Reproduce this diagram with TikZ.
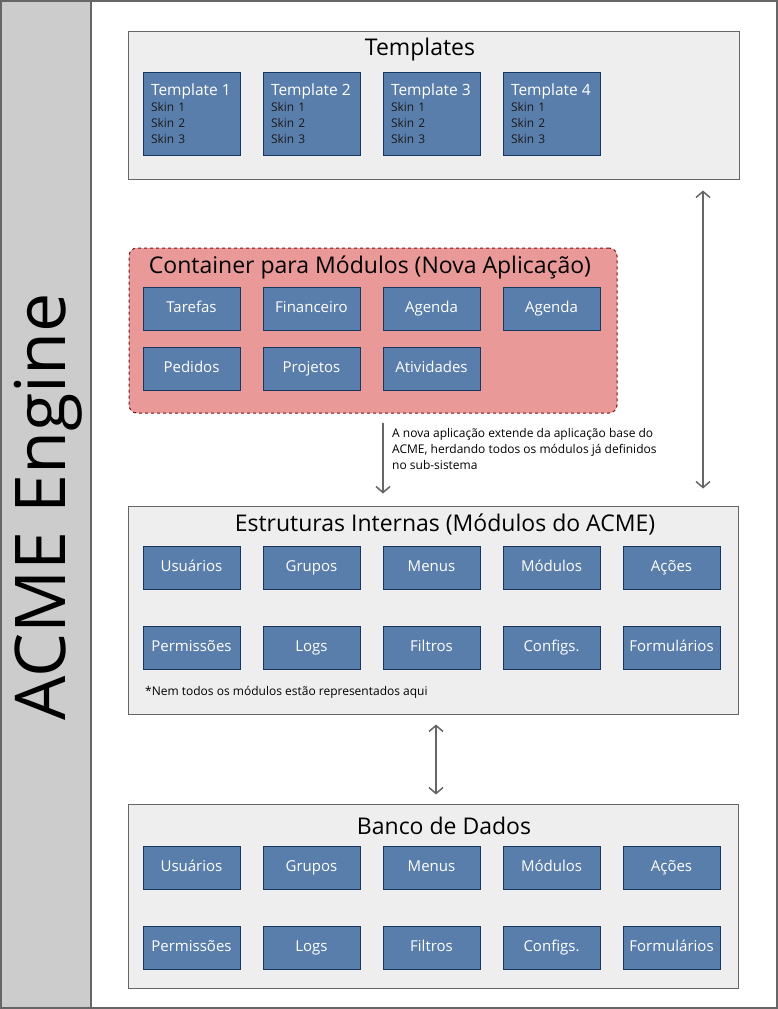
\documentclass[tikz,border=0pt]{standalone}
\usepackage{fontspec}
\setmainfont{Open Sans}
\usetikzlibrary{arrows.meta}
\definecolor{modfill}{HTML}{5A7EAB}
\definecolor{modline}{HTML}{17375E}
\definecolor{boxgray}{HTML}{EEEEEE}
\definecolor{framegray}{HTML}{666666}
\definecolor{stripgray}{HTML}{CCCCCC}
\definecolor{appfill}{HTML}{EA9999}
\definecolor{appline}{HTML}{7A1010}

\begin{document}
\begin{tikzpicture}[x=1pt,y=-1pt]
\tikzstyle{every node}=[inner sep=0pt];
\tikzstyle{frame}=[draw=framegray,fill=boxgray,line width=1pt];
\tikzstyle{title}=[font=\fontsize{23}{26}\selectfont,text=black];
\tikzstyle{modbox}=[draw=modline,fill=modfill,line width=1pt,minimum width=97pt,minimum height=43pt,text height=11pt,text depth=3.5pt,text=white,font=\fontsize{15}{18}\selectfont];
\tikzstyle{tplbox}=[draw=modline,fill=modfill,line width=1pt,minimum width=97pt,minimum height=83pt,text width=81pt,align=left,text=black!90,font=\fontsize{12}{16}\selectfont];
\tikzstyle{small}=[font=\fontsize{12}{16}\selectfont,text=black];
\tikzstyle{link}=[draw=framegray,line width=1.5pt];
\path[use as bounding box] (0,0) rectangle (778,1009);
% outer frame and left strip
\draw[draw=framegray,line width=2pt,fill=white] (1,1) rectangle (777,1008);
\draw[draw=framegray,line width=2pt,fill=stripgray] (1,1) rectangle (91,1008);
\node[rotate=90,font=\fontsize{70}{74}\selectfont] (engine) at (48,507) {ACME Engine};
% templates
\node[frame,minimum width=611pt,minimum height=148pt] (tpl) at (433.5,105) {};
\node[title] (tpltitle) at (420,50) {Templates};
\foreach \i in {1,2,3,4}
	\node[tplbox] (t\i) at ({191.5+120*(\i-1)},113.5)
		{{\color{white}\fontsize{15.5}{16}\selectfont Template \i}\\Skin 1\\Skin 2\\Skin 3};
% nova aplicacao
\node[draw=appline,fill=appfill,dashed,rounded corners=8pt,line width=1pt,minimum width=488pt,minimum height=165pt] (cont) at (373,330.5) {};
\node[title] (conttitle) at (370,267) {Container para Módulos (Nova Aplicação)};
\foreach \name [count=\i] in {Tarefas,Financeiro,Agenda,Agenda}
	\node[modbox] (c\i) at ({191.5+120*(\i-1)},308.5) {\name};
\foreach \name [count=\i] in {Pedidos,Projetos,Atividades}
	\node[modbox] (p\i) at ({191.5+120*(\i-1)},368.5) {\name};
% estruturas internas
\node[frame,minimum width=610pt,minimum height=208pt] (estr) at (433,610) {};
\node[title] (estrtitle) at (445,525) {Estruturas Internas (Módulos do ACME)};
\foreach \name [count=\i] in {Usuários,Grupos,Menus,Módulos,Ações}
	\node[modbox] (e\i) at ({191.5+120*(\i-1)},568) {\name};
\foreach \name [count=\i] in {Permissões,Logs,Filtros,Configs.,Formulários}
	\node[modbox] (f\i) at ({191.5+120*(\i-1)},648) {\name};
\node[small,anchor=west] (nota) at (145,692) {*Nem todos os módulos estão representados aqui};
% banco de dados
\node[frame,minimum width=610pt,minimum height=184pt] (banco) at (433,896) {};
\node[title] (bancotitle) at (444,826) {Banco de Dados};
\foreach \name [count=\i] in {Usuários,Grupos,Menus,Módulos,Ações}
	\node[modbox] (b\i) at ({191.5+120*(\i-1)},868) {\name};
\foreach \name [count=\i] in {Permissões,Logs,Filtros,Configs.,Formulários}
	\node[modbox] (d\i) at ({191.5+120*(\i-1)},948) {\name};
% ligacoes
\draw[link,-{Straight Barb[length=6pt,width=14pt]}] ([xshift=10pt,yshift=-9pt]cont.south) -- ([xshift=-50pt,yshift=12pt]estr.north);
\node[small,anchor=north west,align=left] (heranca) at (392,428)
	{A nova aplicação extende da aplicação base do\\ACME, herdando todos os módulos já definidos\\no sub-sistema};
\draw[link,{Straight Barb[length=6pt,width=14pt]}-{Straight Barb[length=6pt,width=14pt]}] ([xshift=269.5pt,yshift=-11pt]tpl.south) -- ([xshift=270pt,yshift=17pt]estr.north);
\draw[link,{Straight Barb[length=6pt,width=14pt]}-{Straight Barb[length=6pt,width=14pt]}] ([xshift=3pt,yshift=-10pt]estr.south) -- ([xshift=3pt,yshift=9pt]banco.north);
\end{tikzpicture}
\end{document}
